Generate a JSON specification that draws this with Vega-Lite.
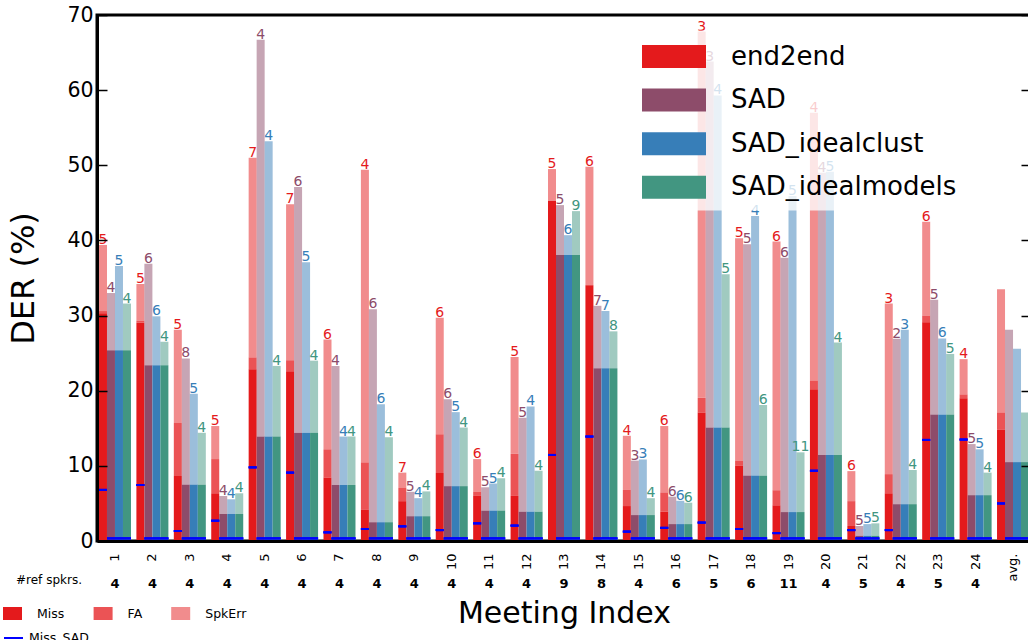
{
  "$schema": "https://vega.github.io/schema/vega-lite/v6.json",
  "autosize": "none",
  "width": 934,
  "height": 526,
  "padding": {"left": 97, "top": 15, "right": 0, "bottom": 99},
  "background": "white",
  "config": {
    "font": "DejaVu Sans",
    "view": {"stroke": "black", "strokeWidth": 3},
    "axis": {"grid": false, "labelColor": "black", "titleColor": "black", "tickColor": "black", "domainColor": "black", "titleFontWeight": "normal", "labelFont": "DejaVu Sans", "titleFont": "DejaVu Sans"},
    "legend": {"labelFont": "DejaVu Sans", "labelColor": "black"}
  },
  "datasets": {
    "d": [
      {"m":"1|4","s":"end2end","Miss":30.3,"FA":0.3,"SpkErr":8.8,"n":5,"ms":6.8},
      {"m":"1|4","s":"SAD","Miss":25.4,"FA":0,"SpkErr":7.6,"n":4,"ms":0.35},
      {"m":"1|4","s":"SAD_idealclust","Miss":25.4,"FA":0,"SpkErr":11.2,"n":5,"ms":0.35},
      {"m":"1|4","s":"SAD_idealmodels","Miss":25.4,"FA":0,"SpkErr":6.2,"n":4,"ms":0.35},
      {"m":"2|4","s":"end2end","Miss":29.05,"FA":0.25,"SpkErr":4.9,"n":5,"ms":7.45},
      {"m":"2|4","s":"SAD","Miss":23.4,"FA":0,"SpkErr":13.5,"n":6,"ms":0.35},
      {"m":"2|4","s":"SAD_idealclust","Miss":23.4,"FA":0,"SpkErr":6.5,"n":6,"ms":0.35},
      {"m":"2|4","s":"SAD_idealmodels","Miss":23.4,"FA":0,"SpkErr":3.1,"n":4,"ms":0.35},
      {"m":"3|4","s":"end2end","Miss":8.65,"FA":7.05,"SpkErr":12.4,"n":5,"ms":1.33},
      {"m":"3|4","s":"SAD","Miss":7.5,"FA":0,"SpkErr":16.8,"n":8,"ms":0.35},
      {"m":"3|4","s":"SAD_idealclust","Miss":7.5,"FA":0,"SpkErr":12.1,"n":5,"ms":0.35},
      {"m":"3|4","s":"SAD_idealmodels","Miss":7.5,"FA":0,"SpkErr":6.9,"n":4,"ms":0.35},
      {"m":"4|4","s":"end2end","Miss":6.35,"FA":4.55,"SpkErr":4.4,"n":5,"ms":2.7},
      {"m":"4|4","s":"SAD","Miss":3.6,"FA":0,"SpkErr":2.4,"n":4,"ms":0.35},
      {"m":"4|4","s":"SAD_idealclust","Miss":3.6,"FA":0,"SpkErr":1.95,"n":4,"ms":0.35},
      {"m":"4|4","s":"SAD_idealmodels","Miss":3.6,"FA":0,"SpkErr":2.75,"n":4,"ms":0.35},
      {"m":"5|4","s":"end2end","Miss":22.85,"FA":1.55,"SpkErr":26.6,"n":7,"ms":9.8},
      {"m":"5|4","s":"SAD","Miss":13.9,"FA":0,"SpkErr":52.8,"n":4,"ms":0.35},
      {"m":"5|4","s":"SAD_idealclust","Miss":13.9,"FA":0,"SpkErr":39.3,"n":4,"ms":0.35},
      {"m":"5|4","s":"SAD_idealmodels","Miss":13.9,"FA":0,"SpkErr":9.4,"n":4,"ms":0.35},
      {"m":"6|4","s":"end2end","Miss":22.6,"FA":1.45,"SpkErr":20.75,"n":7,"ms":9.1},
      {"m":"6|4","s":"SAD","Miss":14.4,"FA":0,"SpkErr":32.7,"n":6,"ms":0.35},
      {"m":"6|4","s":"SAD_idealclust","Miss":14.4,"FA":0,"SpkErr":22.7,"n":5,"ms":0.35},
      {"m":"6|4","s":"SAD_idealmodels","Miss":14.4,"FA":0,"SpkErr":9.6,"n":4,"ms":0.35},
      {"m":"7|4","s":"end2end","Miss":8.45,"FA":3.75,"SpkErr":14.6,"n":6,"ms":1.15},
      {"m":"7|4","s":"SAD","Miss":7.45,"FA":0,"SpkErr":15.85,"n":4,"ms":0.35},
      {"m":"7|4","s":"SAD_idealclust","Miss":7.45,"FA":0,"SpkErr":6.45,"n":4,"ms":0.35},
      {"m":"7|4","s":"SAD_idealmodels","Miss":7.45,"FA":0,"SpkErr":6.45,"n":4,"ms":0.35},
      {"m":"8|4","s":"end2end","Miss":4.2,"FA":6.25,"SpkErr":38.95,"n":4,"ms":1.6},
      {"m":"8|4","s":"SAD","Miss":2.5,"FA":0,"SpkErr":28.35,"n":6,"ms":0.35},
      {"m":"8|4","s":"SAD_idealclust","Miss":2.5,"FA":0,"SpkErr":15.7,"n":6,"ms":0.35},
      {"m":"8|4","s":"SAD_idealmodels","Miss":2.5,"FA":0,"SpkErr":11.3,"n":4,"ms":0.35},
      {"m":"9|4","s":"end2end","Miss":5.3,"FA":1.75,"SpkErr":2.05,"n":7,"ms":1.95},
      {"m":"9|4","s":"SAD","Miss":3.3,"FA":0,"SpkErr":3.25,"n":5,"ms":0.35},
      {"m":"9|4","s":"SAD_idealclust","Miss":3.3,"FA":0,"SpkErr":2.4,"n":4,"ms":0.35},
      {"m":"9|4","s":"SAD_idealmodels","Miss":3.3,"FA":0,"SpkErr":3.3,"n":4,"ms":0.35},
      {"m":"10|4","s":"end2end","Miss":9.05,"FA":5.15,"SpkErr":15.5,"n":6,"ms":1.45},
      {"m":"10|4","s":"SAD","Miss":7.3,"FA":0,"SpkErr":11.55,"n":6,"ms":0.35},
      {"m":"10|4","s":"SAD_idealclust","Miss":7.3,"FA":0,"SpkErr":9.85,"n":5,"ms":0.35},
      {"m":"10|4","s":"SAD_idealmodels","Miss":7.3,"FA":0,"SpkErr":7.8,"n":4,"ms":0.35},
      {"m":"11|4","s":"end2end","Miss":6.0,"FA":0.55,"SpkErr":4.35,"n":6,"ms":2.35},
      {"m":"11|4","s":"SAD","Miss":4.05,"FA":0,"SpkErr":3.1,"n":5,"ms":0.35},
      {"m":"11|4","s":"SAD_idealclust","Miss":4.05,"FA":0,"SpkErr":3.6,"n":5,"ms":0.35},
      {"m":"11|4","s":"SAD_idealmodels","Miss":4.05,"FA":0,"SpkErr":4.3,"n":4,"ms":0.35},
      {"m":"12|4","s":"end2end","Miss":6.0,"FA":5.6,"SpkErr":12.9,"n":5,"ms":2.05},
      {"m":"12|4","s":"SAD","Miss":3.9,"FA":0,"SpkErr":12.5,"n":5,"ms":0.35},
      {"m":"12|4","s":"SAD_idealclust","Miss":3.9,"FA":0,"SpkErr":14.0,"n":4,"ms":0.35},
      {"m":"12|4","s":"SAD_idealmodels","Miss":3.9,"FA":0,"SpkErr":5.45,"n":4,"ms":0.35},
      {"m":"13|9","s":"end2end","Miss":45.25,"FA":0,"SpkErr":4.25,"n":5,"ms":11.45},
      {"m":"13|9","s":"SAD","Miss":38.05,"FA":0,"SpkErr":6.65,"n":5,"ms":0.35},
      {"m":"13|9","s":"SAD_idealclust","Miss":38.05,"FA":0,"SpkErr":2.65,"n":6,"ms":0.35},
      {"m":"13|9","s":"SAD_idealmodels","Miss":38.05,"FA":0,"SpkErr":5.85,"n":9,"ms":0.35},
      {"m":"14|8","s":"end2end","Miss":34.05,"FA":0,"SpkErr":15.75,"n":6,"ms":13.9},
      {"m":"14|8","s":"SAD","Miss":23.0,"FA":0,"SpkErr":8.3,"n":7,"ms":0.35},
      {"m":"14|8","s":"SAD_idealclust","Miss":23.0,"FA":0,"SpkErr":7.6,"n":7,"ms":0.35},
      {"m":"14|8","s":"SAD_idealmodels","Miss":23.0,"FA":0,"SpkErr":4.9,"n":8,"ms":0.35},
      {"m":"15|4","s":"end2end","Miss":4.65,"FA":2.15,"SpkErr":7.2,"n":4,"ms":1.25},
      {"m":"15|4","s":"SAD","Miss":3.45,"FA":0,"SpkErr":7.25,"n":3,"ms":0.35},
      {"m":"15|4","s":"SAD_idealclust","Miss":3.45,"FA":0,"SpkErr":7.4,"n":3,"ms":0.35},
      {"m":"15|4","s":"SAD_idealmodels","Miss":3.45,"FA":0,"SpkErr":2.25,"n":4,"ms":0.35},
      {"m":"16|6","s":"end2end","Miss":3.9,"FA":2.55,"SpkErr":8.85,"n":6,"ms":1.75},
      {"m":"16|6","s":"SAD","Miss":2.25,"FA":0,"SpkErr":3.65,"n":6,"ms":0.35},
      {"m":"16|6","s":"SAD_idealclust","Miss":2.25,"FA":0,"SpkErr":3.1,"n":6,"ms":0.35},
      {"m":"16|6","s":"SAD_idealmodels","Miss":2.25,"FA":0,"SpkErr":2.85,"n":6,"ms":0.35},
      {"m":"17|5","s":"end2end","Miss":17.1,"FA":1.95,"SpkErr":48.75,"n":3,"ms":2.45},
      {"m":"17|5","s":"SAD","Miss":15.1,"FA":0,"SpkErr":48.7,"n":3,"ms":0.35},
      {"m":"17|5","s":"SAD_idealclust","Miss":15.1,"FA":0,"SpkErr":44.2,"n":4,"ms":0.35},
      {"m":"17|5","s":"SAD_idealmodels","Miss":15.1,"FA":0,"SpkErr":20.4,"n":5,"ms":0.35},
      {"m":"18|6","s":"end2end","Miss":10.0,"FA":0.65,"SpkErr":29.65,"n":5,"ms":1.6},
      {"m":"18|6","s":"SAD","Miss":8.7,"FA":0,"SpkErr":30.8,"n":5,"ms":0.35},
      {"m":"18|6","s":"SAD_idealclust","Miss":8.7,"FA":0,"SpkErr":34.55,"n":4,"ms":0.35},
      {"m":"18|6","s":"SAD_idealmodels","Miss":8.7,"FA":0,"SpkErr":9.4,"n":6,"ms":0.35},
      {"m":"19|11","s":"end2end","Miss":4.75,"FA":2.0,"SpkErr":33.1,"n":6,"ms":1.05},
      {"m":"19|11","s":"SAD","Miss":3.85,"FA":0,"SpkErr":33.85,"n":6,"ms":0.35},
      {"m":"19|11","s":"SAD_idealclust","Miss":3.85,"FA":0,"SpkErr":42.05,"n":5,"ms":0.35},
      {"m":"19|11","s":"SAD_idealmodels","Miss":3.85,"FA":0,"SpkErr":7.95,"n":11,"ms":0.35},
      {"m":"20|4","s":"end2end","Miss":20.2,"FA":1.1,"SpkErr":35.7,"n":4,"ms":9.35},
      {"m":"20|4","s":"SAD","Miss":11.45,"FA":0,"SpkErr":37.55,"n":4,"ms":0.35},
      {"m":"20|4","s":"SAD_idealclust","Miss":11.45,"FA":0,"SpkErr":37.7,"n":5,"ms":0.35},
      {"m":"20|4","s":"SAD_idealmodels","Miss":11.45,"FA":0,"SpkErr":14.95,"n":4,"ms":0.35},
      {"m":"21|5","s":"end2end","Miss":2.0,"FA":3.3,"SpkErr":4.0,"n":6,"ms":1.45},
      {"m":"21|5","s":"SAD","Miss":0.7,"FA":0,"SpkErr":1.3,"n":5,"ms":0.35},
      {"m":"21|5","s":"SAD_idealclust","Miss":0.7,"FA":0,"SpkErr":1.55,"n":5,"ms":0.35},
      {"m":"21|5","s":"SAD_idealmodels","Miss":0.7,"FA":0,"SpkErr":1.65,"n":5,"ms":0.35},
      {"m":"22|4","s":"end2end","Miss":6.35,"FA":2.55,"SpkErr":22.7,"n":3,"ms":1.45},
      {"m":"22|4","s":"SAD","Miss":4.9,"FA":0,"SpkErr":22.0,"n":2,"ms":0.35},
      {"m":"22|4","s":"SAD_idealclust","Miss":4.9,"FA":0,"SpkErr":23.2,"n":3,"ms":0.35},
      {"m":"22|4","s":"SAD_idealmodels","Miss":4.9,"FA":0,"SpkErr":4.55,"n":4,"ms":0.35},
      {"m":"23|5","s":"end2end","Miss":29.1,"FA":0.9,"SpkErr":12.5,"n":6,"ms":13.45},
      {"m":"23|5","s":"SAD","Miss":16.85,"FA":0,"SpkErr":15.25,"n":5,"ms":0.35},
      {"m":"23|5","s":"SAD_idealclust","Miss":16.85,"FA":0,"SpkErr":10.1,"n":6,"ms":0.35},
      {"m":"23|5","s":"SAD_idealmodels","Miss":16.85,"FA":0,"SpkErr":8.05,"n":5,"ms":0.35},
      {"m":"24|4","s":"end2end","Miss":19.0,"FA":0.5,"SpkErr":4.7,"n":4,"ms":13.5},
      {"m":"24|4","s":"SAD","Miss":6.1,"FA":0,"SpkErr":6.8,"n":5,"ms":0.35},
      {"m":"24|4","s":"SAD_idealclust","Miss":6.1,"FA":0,"SpkErr":6.1,"n":5,"ms":0.35},
      {"m":"24|4","s":"SAD_idealmodels","Miss":6.1,"FA":0,"SpkErr":3.0,"n":4,"ms":0.35},
      {"m":"avg.|","s":"end2end","Miss":14.8,"FA":2.3,"SpkErr":16.4,"n":null,"ms":5.0},
      {"m":"avg.|","s":"SAD","Miss":10.5,"FA":0,"SpkErr":17.6,"n":null,"ms":0.35},
      {"m":"avg.|","s":"SAD_idealclust","Miss":10.5,"FA":0,"SpkErr":15.1,"n":null,"ms":0.35},
      {"m":"avg.|","s":"SAD_idealmodels","Miss":10.5,"FA":0,"SpkErr":6.6,"n":null,"ms":0.35}
    ]
  },
  "data": {"name": "d"},
  "transform": [
    {"fold": ["Miss", "FA", "SpkErr"], "as": ["comp", "val"]},
    {"stack": "val", "groupby": ["m", "s"], "as": ["lo", "hi"]}
  ],
  "layer": [
    {
      "mark": {"type": "bar", "strokeWidth": 0},
      "encoding": {
        "x": {"field": "m", "type": "nominal", "sort": null,
          "scale": {"paddingInner": 0.145, "paddingOuter": 0.053},
          "axis": {"orient": "bottom", "title": null, "labelExpr": "split(datum.value,'|')[0]", "labelAngle": -90, "labelAlign": "right", "labelBaseline": "middle", "labelFontSize": 13, "labelPadding": 12, "ticks": false, "domain": true, "domainWidth": 3, "zindex": 1, "labelOverlap": false}},
        "xOffset": {"field": "s", "type": "nominal", "sort": ["end2end", "SAD", "SAD_idealclust", "SAD_idealmodels"]},
        "y": {"field": "hi", "type": "quantitative", "scale": {"domain": [0, 70], "nice": false},
          "axis": {"orient": "left", "title": "DER (%)", "titleFontSize": 32, "titleX": -74, "titleAlign": "center", "titleBaseline": "middle", "titleAngle": -90, "values": [0, 10, 20, 30, 40, 50, 60, 70], "labelFontSize": 20.5, "tickSize": -10, "tickWidth": 1.5, "labelPadding": 14, "domainWidth": 3, "zindex": 1, "labelFlush": false, "labelOverlap": false}},
        "y2": {"field": "lo"},
        "fill": {"field": "s", "type": "nominal",
          "scale": {"domain": ["end2end", "SAD", "SAD_idealclust", "SAD_idealmodels"], "range": ["#E41A1C", "#8D4C6A", "#377EB8", "#429681"]},
          "legend": {"orient": "none", "legendX": 535, "legendY": 15.5, "title": null, "padding": 10, "fillColor": "rgba(255,255,255,0.78)", "symbolType": "M-2,-0.72H2V0.72H-2Z", "symbolSize": 1024, "symbolOffset": 16, "symbolStrokeWidth": 0, "labelFontSize": 26, "labelOffset": 41, "rowPadding": 14.6, "labelLimit": 400, "direction": "vertical"}},
        "opacity": {"field": "comp", "type": "ordinal",
          "scale": {"type": "ordinal", "domain": ["Miss", "FA", "SpkErr"], "range": [1, 0.75, 0.5]},
          "legend": {"orient": "none", "legendX": -94, "legendY": 589, "title": null, "direction": "horizontal", "columns": 3, "symbolType": "M-1,-0.684H1V0.684H-1Z", "symbolSize": 361, "symbolFillColor": "#E41A1C", "symbolStrokeWidth": 0, "labelFontSize": 12.5, "labelOffset": 15, "columnPadding": 28.6, "padding": 0,
            "encode": {"symbols": {"update": {"fill": {"value": "#E41A1C"}, "stroke": {"value": "transparent"}}}}}}
      }
    },
    {
      "mark": {"type": "tick", "orient": "horizontal", "thickness": 2, "size": 8, "fill": "#0000ff", "strokeWidth": 0, "opacity": 1},
      "encoding": {
        "x": {"field": "m", "type": "nominal", "sort": null,
          "axis": {"orient": "bottom", "labels": false, "ticks": false, "domain": false, "title": "Meeting Index", "titleFontSize": 30, "titleY": 81, "titleBaseline": "alphabetic"}},
        "xOffset": {"field": "s", "type": "nominal", "sort": ["end2end", "SAD", "SAD_idealclust", "SAD_idealmodels"]},
        "y": {"field": "ms", "type": "quantitative",
          "axis": {"orient": "right", "labels": false, "domain": false, "title": null, "tickSize": -10, "tickWidth": 1.5, "values": [0, 10, 20, 30, 40, 50, 60, 70], "zindex": 1}},
        "stroke": {"datum": "Miss_SAD", "type": "nominal",
          "scale": {"domain": ["Miss_SAD"], "range": ["#0000ff"]},
          "legend": {"orient": "none", "legendX": -94, "legendY": 612.5, "title": null, "symbolType": "stroke", "symbolSize": 361, "symbolStrokeWidth": 2, "symbolStrokeColor": "#0000ff", "labelFontSize": 12.5, "labelOffset": 5, "padding": 0,
            "encode": {"symbols": {"update": {"stroke": {"value": "#0000ff"}, "strokeWidth": {"value": 2}, "fill": {"value": "transparent"}}}}}}
      }
    },
    {
      "mark": {"type": "text", "fontSize": 14, "baseline": "alphabetic", "dy": -1, "align": "center"},
      "encoding": {
        "x": {"field": "m", "type": "nominal", "sort": null,
          "axis": {"orient": "bottom", "labelExpr": "split(datum.value,'|')[1]", "labelFontWeight": "bold", "labelFontSize": 13, "labelAngle": 0, "labelBaseline": "alphabetic", "labelPadding": 46, "ticks": false, "domain": false, "title": "#ref spkrs.", "titleFontSize": 12, "titleX": -48.5, "titleY": 42, "titleAlign": "center", "titleBaseline": "alphabetic", "labelOverlap": false}},
        "xOffset": {"field": "s", "type": "nominal", "sort": ["end2end", "SAD", "SAD_idealclust", "SAD_idealmodels"]},
        "y": {"field": "hi", "type": "quantitative", "axis": null},
        "text": {"condition": {"test": "datum.comp === 'SpkErr' && isValid(datum.n)", "field": "n", "type": "nominal"}, "value": ""},
        "fill": {"field": "s", "type": "nominal", "legend": null}
      }
    }
  ],
  "resolve": {"axis": {"x": "independent", "y": "independent"}}
}
